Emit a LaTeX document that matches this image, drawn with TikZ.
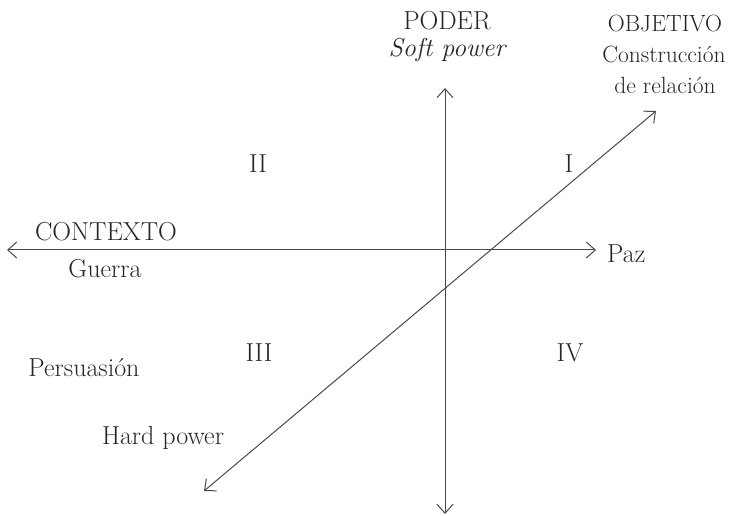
\documentclass[tikz,border=0pt]{standalone}
\usetikzlibrary{arrows.meta}
\definecolor{txt}{HTML}{262626}
\definecolor{ln}{HTML}{4a4a4a}
\begin{document}
\begin{tikzpicture}[x=1pt,y=-1pt,
  lbl/.style={text=txt, font=\fontsize{26}{30}\selectfont, inner sep=0pt, anchor=base},
  objlbl/.style={lbl, font=\fontsize{23.5}{28}\selectfont},
  axis/.style={draw=ln, line width=1pt,
    {Straight Barb[length=9pt,width=16pt]}-{Straight Barb[length=9pt,width=16pt]}}]
\useasboundingbox (0,0) rectangle (732,516);
% axis endpoints
\coordinate (L) at (7,250);
\coordinate (R) at (596,250);
\coordinate (T) at (445,88);
\coordinate (B) at (445,514);
\coordinate (DT) at (656,111);
\coordinate (DB) at (204,491);
\draw[axis] (L) -- (R);
\draw[axis] (B) -- (T);
\draw[axis] (DB) -- (DT);
% labels
\node[lbl] (poder) at (447,30) {PODER};
\node[lbl] (soft) at (447,57) {\itshape Soft power};
\node[objlbl] (obj) at (665,32) {OBJETIVO};
\node[objlbl] (constr) at (664,63) {Construcción};
\node[objlbl] (rel) at (665,94) {de relación};
\node[lbl] (qii) at (258,173) {II};
\node[lbl] (qi) at (569,173) {I};
\node[lbl] (ctx) at (106,241) {CONTEXTO};
\node[lbl] (guerra) at (105,278) {Guerra};
\node[lbl, anchor=base west] (paz) at (607,262) {Paz};
\node[lbl] (qiii) at (259,361) {III};
\node[lbl] (qiv) at (570,361) {IV};
\node[lbl] (pers) at (84,376) {Persuasión};
\node[lbl] (hard) at (163,444) {Hard power};
\end{tikzpicture}
\end{document}
